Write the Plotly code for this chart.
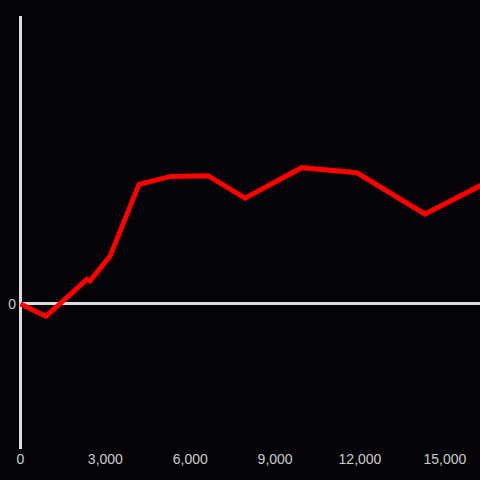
import plotly.graph_objects as go

x_vals = [0, 900, 2350, 2457, 3164, 4189, 5320, 6628, 7936, 9940, 11895, 14298, 16300]
y_vals = [0, -8.5, 17, 16, 33, 82.5, 88, 88.5, 73, 94, 90.5, 62, 82]
x_ticks = [0, 3000, 6000, 9000, 12000, 15000]
x_tick_text = ["0", "3,000", "6,000", "9,000", "12,000", "15,000"]

fig = go.Figure(go.Scatter(x=x_vals, y=y_vals, mode="lines",
                           line=dict(color="#ff0000", width=5), hoverinfo="skip"))
fig.update_layout(
    width=480, height=480,
    paper_bgcolor="#050307", plot_bgcolor="#050307",
    margin=dict(l=20, r=0, t=16, b=31),
    showlegend=False,
    font=dict(family="Liberation Sans, Arial, sans-serif", size=14, color="#cccccc"),
)
fig.update_xaxes(range=[-18, 16242], showgrid=False, zeroline=True, zerolinecolor="#dddddd",
                 zerolinewidth=3, showline=False,
                 tickvals=x_ticks, ticktext=x_tick_text, ticks="")
fig.update_yaxes(range=[-100, 198.6], showgrid=False, zeroline=True, zerolinecolor="#dddddd",
                 zerolinewidth=3, showline=False, ticklabelstandoff=3,
                 tickvals=[0], ticktext=["0"], ticks="")
fig.write_html("out.html", config={"displayModeBar": False},
               post_script="document.body.style.margin='0';document.body.style.overflow='hidden';document.body.style.background='#050307';")
